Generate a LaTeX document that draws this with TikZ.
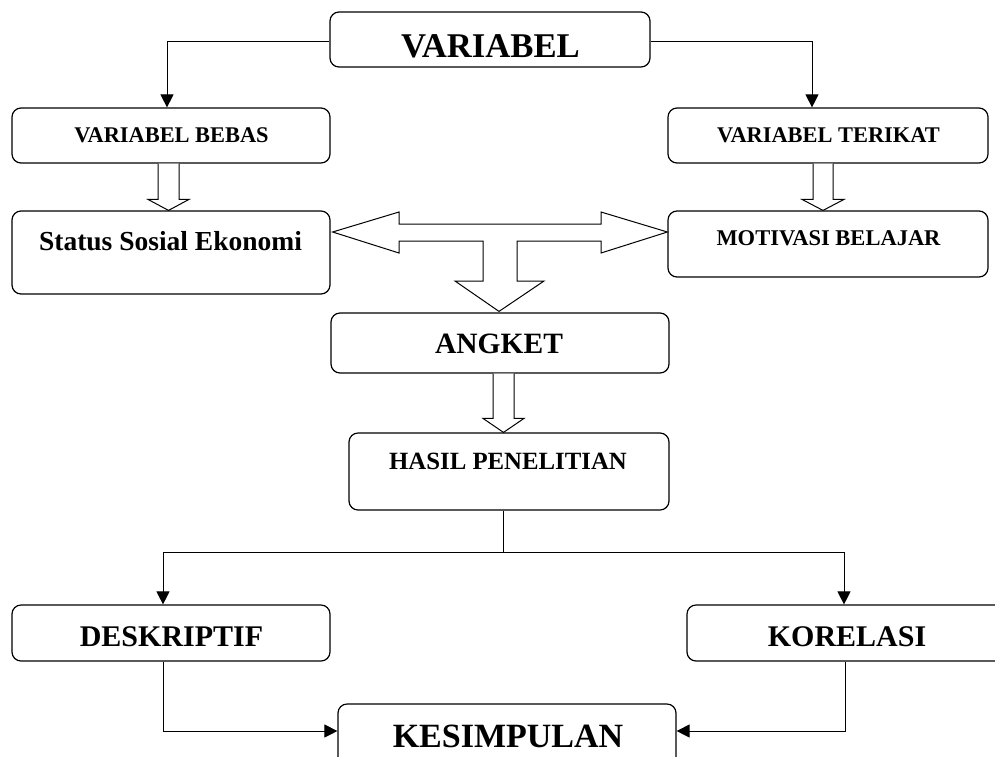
\documentclass[tikz,border=0pt]{standalone}
\usepackage{fontspec}
\setmainfont{Liberation Serif}
\usetikzlibrary{arrows.meta,calc}
\tikzset{
  box/.style={draw, rounded corners=9pt, line width=1.2pt, inner sep=0pt},
  lbl/.style={anchor=base, inner sep=0pt},
  fs/.style={font=\bfseries\fontsize{#1}{#1}\selectfont},
  conn/.style={line width=1pt, -{Triangle[length=13pt,width=13pt]}},
  plain/.style={line width=1pt},
  hollow/.style={line width=1pt, line join=miter, fill=white},
}
% #1 source node, #2 target node, #3 x (pt), #4 shaft half width, #5 head half width, #6 head length
\newcommand{\hollowdown}[6]{%
  \draw[hollow] let \p1=(#1.south), \p2=(#2.north) in
    ({#3pt-#4pt},\y1) -- ({#3pt-#4pt},\y2+#6pt) -- ({#3pt-#5pt},\y2+#6pt) --
    (#3pt,\y2) -- ({#3pt+#5pt},\y2+#6pt) -- ({#3pt+#4pt},\y2+#6pt) -- ({#3pt+#4pt},\y1);}
\begin{document}
\begin{tikzpicture}[x=1pt,y=-1pt]
\useasboundingbox (0,0) rectangle (995,756);
\clip (0,0) rectangle (995,756);

% boxes
\node[box, minimum width=320pt, minimum height=55pt] (var) at (490,39.5) {};
\node[box, minimum width=318pt, minimum height=55pt] (bebas) at (171,135.5) {};
\node[box, minimum width=320pt, minimum height=55pt] (terikat) at (828,135.5) {};
\node[box, minimum width=318pt, minimum height=83pt] (status) at (171,252.5) {};
\node[box, minimum width=320pt, minimum height=66pt] (motiv) at (828,244) {};
\node[box, minimum width=338pt, minimum height=60pt] (angket) at (500,343) {};
\node[box, minimum width=320pt, minimum height=77pt] (hasil) at (509,471.5) {};
\node[box, minimum width=318pt, minimum height=56pt] (desk) at (171,633) {};
\node[box, minimum width=320pt, minimum height=56pt] (korel) at (847,633) {};
\node[box, minimum width=338pt, minimum height=96pt] (kes) at (507,752) {};

% texts
\node[lbl, fs=34.7] (varT) at (490.5,57) {VARIABEL};
\node[lbl, fs=22.4] (bebasT) at (171.5,142) {VARIABEL BEBAS};
\node[lbl, fs=22.4] (terikatT) at (828.5,142) {VARIABEL TERIKAT};
\node[lbl, fs=27.5] (statusT) at (170.5,250) {Status Sosial Ekonomi};
\node[lbl, fs=22.5] (motivT) at (828.5,245) {MOTIVASI BELAJAR};
\node[lbl, fs=29.5] (angketT) at (499,353) {ANGKET};
\node[lbl, fs=24.8] (hasilT) at (508,469) {HASIL PENELITIAN};
\node[lbl, fs=30] (deskT) at (171.5,646) {DESKRIPTIF};
\node[lbl, fs=30] (korelT) at (847,646) {KORELASI};
\node[lbl, fs=34] (kesT) at (508,747) {KESIMPULAN};

% thin connectors
\draw[conn] ([yshift=-1.5pt]var.west) -| ([xshift=-4pt]bebas.north);
\draw[conn] ([yshift=-1.5pt]var.east) -| ([xshift=-16pt]terikat.north);
\coordinate (hs) at ($(hasil.south)+(-6,42)$);
\draw[plain] ([xshift=-6pt]hasil.south) -- (hs);
\draw[conn] (hs) -| ([xshift=-8pt]desk.north);
\draw[conn] (hs) -| ([xshift=-3pt]korel.north);
\coordinate (yk) at (0,731);
\draw[conn] ([xshift=-8pt]desk.south) |- (kes.west |- yk);
\draw[conn] ([xshift=-2pt]korel.south) |- (kes.east |- yk);

% hollow block arrows
\hollowdown{bebas}{status}{168.5}{10.5}{20.5}{11}
\hollowdown{terikat}{motiv}{823}{10}{21}{11}
\hollowdown{angket}{hasil}{503.5}{10.5}{20.5}{14}

% double-headed block arrow with downward branch
\coordinate (yt) at (0,232);
\coordinate (tipL) at ($(status.east |- yt)+(2,0)$);
\coordinate (tipR) at (motiv.west |- yt);
\coordinate (tipD) at ($(angket.north)+(-1,-1)$);
\draw[hollow] (tipL) -- (399,212) -- (399,224) -- (601,224) -- (601,212) -- (tipR)
  -- (601,253) -- (601,241) -- (517,241) -- (517,281) -- (544,281) -- (tipD)
  -- (455,281) -- (483,281) -- (483,241) -- (399,241) -- (399,253) -- cycle;
\end{tikzpicture}
\end{document}
